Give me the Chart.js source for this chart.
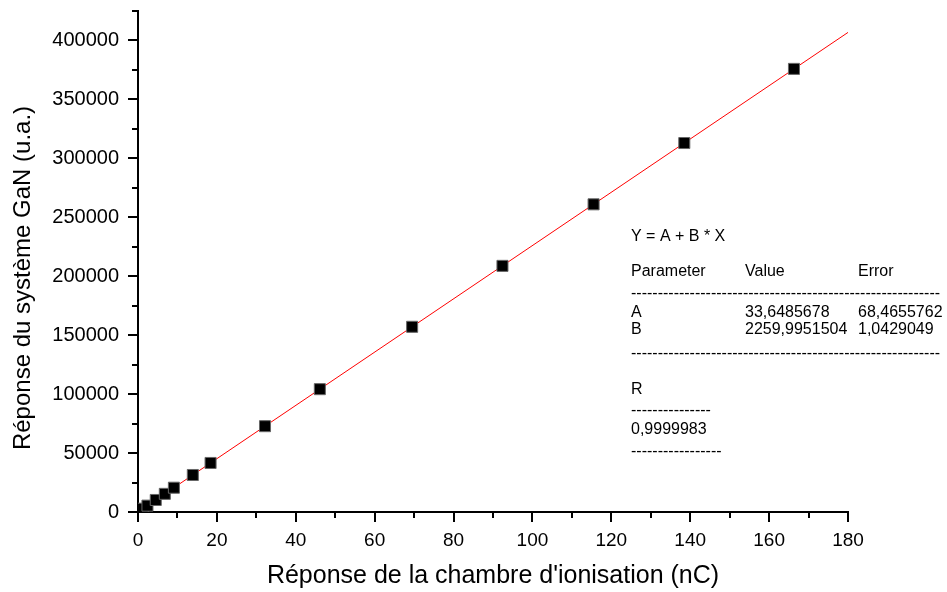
<!DOCTYPE html>
<html><head><meta charset="utf-8">
<script src="https://cdn.jsdelivr.net/npm/chart.js@4.4.1/dist/chart.umd.min.js"></script>
<style>html,body{margin:0;padding:0;background:#fff;}#wrap{width:947px;height:592px;}</style>
</head><body><div id="wrap"><canvas id="c" width="947" height="592"></canvas></div>
<script>
// ---- data ----
const chargeNC = [0.5, 1.2, 2.4, 4.5, 6.8, 9.1, 13.9, 18.4, 32.2, 46.1, 69.5, 92.4, 115.5, 138.5, 166.3];
const responseGaN = [1100, 2800, 5400, 10200, 15400, 20600, 31400, 41600, 72800, 104200, 157100, 208800, 261000, 313000, 375900];
const fitA = 33.6485678;
const fitB = 2259.9951504;
const fitXRange = [0, 180];
const xMajorTicks = [0, 20, 40, 60, 80, 100, 120, 140, 160, 180];
const yMajorTicks = [0, 50000, 100000, 150000, 200000, 250000, 300000, 350000, 400000];
const xMinorTicks = [10, 30, 50, 70, 90, 110, 130, 150, 170];
const yMinorTicks = [25000, 75000, 125000, 175000, 225000, 275000, 325000, 375000, 425000];
const xTitle = "Réponse de la chambre d'ionisation (nC)";
const yTitle = "Réponse du système GaN (u.a.)";
const fitLines = [
  ["Y = A + B * X", "", ""],
  ["Parameter", "Value", "Error"],
  ["A", "33,6485678", "68,4655762"],
  ["B", "2259,9951504", "1,0429049"],
  ["R"],
  ["0,9999983"]
];

const FONT = "'Liberation Sans', Arial, sans-serif";
const pts = chargeNC.map((x, i) => ({x, y: responseGaN[i]}));
const fitPts = fitXRange.map(x => ({x, y: fitA + fitB * x}));

const extras = {
  id: 'extras',
  afterDraw(chart) {
    const ctx = chart.ctx;
    const xs = chart.scales.x, ys = chart.scales.y;
    const area = chart.chartArea;
    ctx.save();
    // minor ticks
    ctx.strokeStyle = '#000'; ctx.lineWidth = 2;
    ctx.beginPath();
    xMinorTicks.forEach(v => { const p = Math.round(xs.getPixelForValue(v)); ctx.moveTo(p, area.bottom); ctx.lineTo(p, area.bottom + 6); });
    yMinorTicks.forEach(v => { const p = Math.round(ys.getPixelForValue(v)); ctx.moveTo(area.left, p); ctx.lineTo(area.left - 6, p); });
    ctx.stroke();
    // axis titles
    ctx.fillStyle = '#000';
    ctx.font = '25px ' + FONT;
    ctx.textAlign = 'center'; ctx.textBaseline = 'middle';
    ctx.fillText(xTitle, (area.left + area.right) / 2, 576);
    ctx.font = '24px ' + FONT;
    ctx.translate(23, 278); ctx.rotate(-Math.PI / 2);
    ctx.fillText(yTitle, 0, 0);
    ctx.setTransform(1, 0, 0, 1, 0, 0);
    // fit result box
    ctx.font = '16px ' + FONT;
    ctx.textAlign = 'left'; ctx.textBaseline = 'middle';
    const c0 = 631, c1 = 745, c2 = 858;
    ctx.fillText(fitLines[0][0], c0, 237);
    ctx.fillText(fitLines[1][0], c0, 272); ctx.fillText(fitLines[1][1], c1, 272); ctx.fillText(fitLines[1][2], c2, 272);
    ctx.fillText(fitLines[2][0], c0, 313); ctx.fillText(fitLines[2][1], c1, 313); ctx.fillText(fitLines[2][2], c2, 313);
    ctx.fillText(fitLines[3][0], c0, 330); ctx.fillText(fitLines[3][1], c1, 330); ctx.fillText(fitLines[3][2], c2, 330);
    ctx.fillText(fitLines[4][0], c0, 390);
    ctx.fillText(fitLines[5][0], c0, 430);
    const dashes = (x, y, w) => {
      let s = '-';
      while (ctx.measureText(s + '-').width <= w) s += '-';
      ctx.fillText(s, x, y);
    };
    dashes(c0, 294, 314);
    dashes(c0, 354, 314);
    dashes(c0, 411, 84);
    dashes(c0, 452, 95);
    ctx.restore();
  }
};

new Chart(document.getElementById('c'), {
  data: {
    datasets: [
      { type: 'line', data: fitPts, borderColor: '#ff0000', borderWidth: 1, pointRadius: 0, fill: false, order: 2 },
      { type: 'scatter', data: pts, pointStyle: 'rect', pointRadius: 7.8, pointHoverRadius: 7.8,
        backgroundColor: '#000', borderColor: '#666', borderWidth: 1, order: 1 }
    ]
  },
  options: {
    responsive: false, animation: false,
    layout: { padding: { left: 0, right: 99, top: 11, bottom: 0 } },
    plugins: { legend: { display: false }, tooltip: { enabled: false } },
    scales: {
      x: {
        type: 'linear', min: 0, max: 180,
        afterBuildTicks: s => { s.ticks = xMajorTicks.map(v => ({value: v})); },
        afterFit: s => { s.height = 80; s.paddingLeft = 0; s.paddingRight = 0; },
        border: { display: true, color: '#000', width: 2 },
        grid: { display: true, drawOnChartArea: false, drawTicks: true, tickLength: 10, tickColor: '#000', lineWidth: 2, tickWidth: 2 },
        ticks: { color: '#000', font: { family: FONT, size: 19 }, padding: 7, maxRotation: 0, autoSkip: false }
      },
      y: {
        type: 'linear', min: 0, max: 425000,
        afterBuildTicks: s => { s.ticks = yMajorTicks.map(v => ({value: v})); },
        afterFit: s => { s.width = 138; s.paddingTop = 0; s.paddingBottom = 0; },
        border: { display: true, color: '#000', width: 2 },
        grid: { display: true, drawOnChartArea: false, drawTicks: true, tickLength: 10, tickColor: '#000', lineWidth: 2, tickWidth: 2 },
        ticks: { color: '#000', font: { family: FONT, size: 20 }, padding: 9, autoSkip: false, callback: v => String(v) }
      }
    }
  },
  plugins: [extras]
});
</script></body></html>
